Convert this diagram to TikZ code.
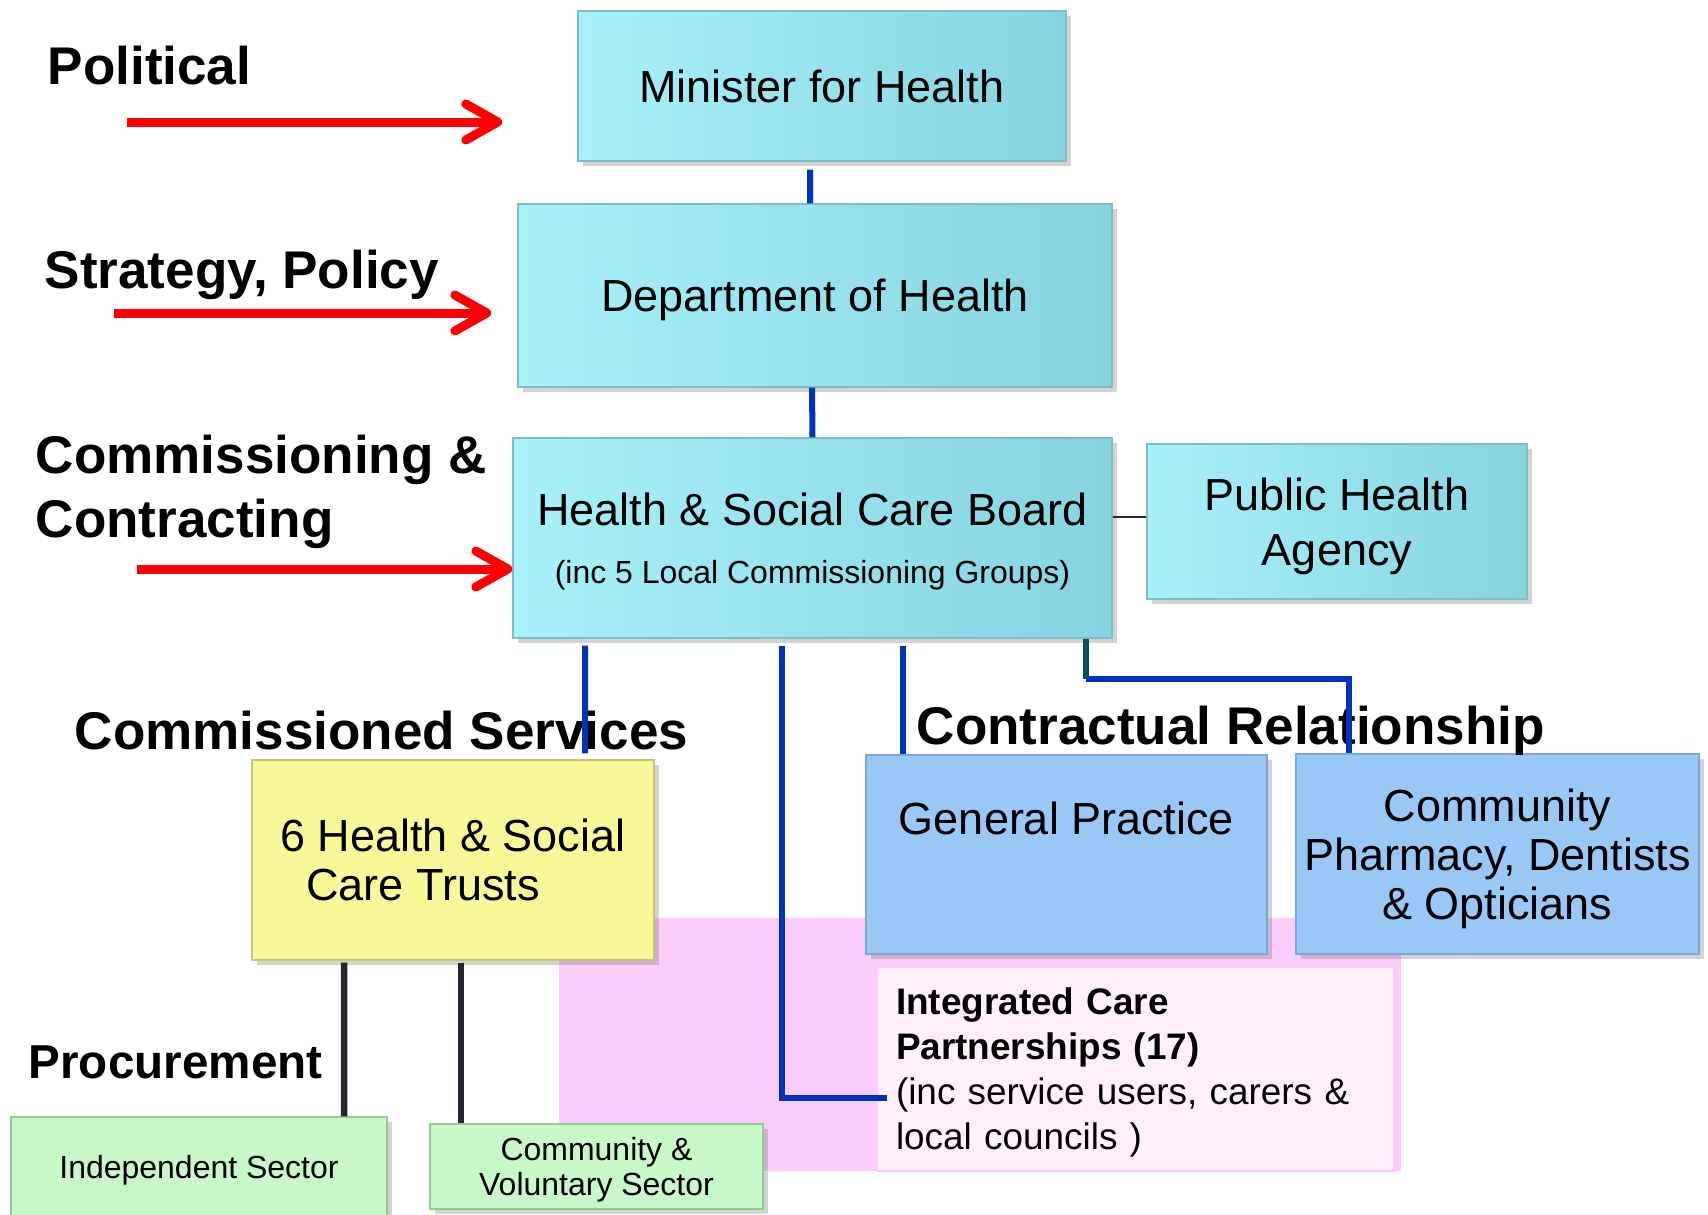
\documentclass[tikz,border=0pt]{standalone}
\usepackage{fontspec}
\setmainfont{Liberation Sans}
\usetikzlibrary{arrows.meta,shadows}
\definecolor{cyanL}{HTML}{A8F1FA}
\definecolor{cyanR}{HTML}{85D4E0}
\definecolor{cyanE}{HTML}{7DBDC6}
\definecolor{trustY}{HTML}{F8F898}
\definecolor{trustE}{HTML}{C4C47A}
\definecolor{gpB}{HTML}{99C8F6}
\definecolor{gpE}{HTML}{78A8D8}
\definecolor{secG}{HTML}{C8F8C8}
\definecolor{secE}{HTML}{96C896}
\definecolor{icpP}{HTML}{FACCFA}
\definecolor{icpW}{HTML}{FFF0FC}
\definecolor{linkB}{HTML}{0033BB}
\definecolor{linkT}{HTML}{0B4F5A}
\definecolor{linkD}{HTML}{26262E}
\newcommand\boxtxt{\fontsize{12.8}{13.9}\selectfont}
\newcommand\subtxt{\fontsize{9.1}{10}\selectfont}
\newcommand\headtxt{\fontsize{15.1}{18.2}\selectfont\bfseries}
\newcommand\icptxt{\fontsize{10.5}{12.8}\selectfont}
\begin{document}
\begin{tikzpicture}[
  shad/.style={drop shadow={shadow xshift=0.05cm,shadow yshift=-0.05cm,opacity=0.35}},
  box/.style={draw=cyanE,left color=cyanL,right color=cyanR,shad,font=\boxtxt,align=center,inner sep=0,text depth=0pt},
  trustbox/.style={draw=trustE,fill=trustY,shad,font=\boxtxt,align=left,inner sep=0},
  gpbox/.style={draw=gpE,fill=gpB,shad,font=\boxtxt,align=center,inner sep=0,text depth=0pt},
  secbox/.style={draw=secE,fill=secG,shad,font=\subtxt,align=center,inner sep=0,text depth=0pt},
  head/.style={font=\headtxt,inner sep=0,anchor=base west},
  link/.style={draw=linkB,line width=0.06cm},
  dlink/.style={draw=linkD,line width=0.065cm},
  redarr/.style={draw=red,line width=0.09cm,-{Straight Barb[length=3.2mm,width=3.6mm,round]}}]
  \useasboundingbox (0,0) rectangle (17.08,-12.14);

  \fill[icpP] (5.59,-9.18) rectangle (14.01,-11.71);

  \node[box,minimum width=4.88cm,minimum height=1.50cm] (minister) at (8.22,-0.86) {Minister for Health};
  \node[box,minimum width=5.94cm,minimum height=1.83cm] (dept) at (8.15,-2.955) {Department of Health};
  \node[box,minimum width=5.99cm,minimum height=2.00cm] (hscb) at (8.125,-5.38)
    {Health \& Social Care Board\\[0.09cm] \subtxt (inc 5 Local Commissioning Groups)};
  \node[box,minimum width=3.80cm,minimum height=1.55cm,font=\fontsize{12.8}{15.5}\selectfont] (pha) at (13.37,-5.215) {Public Health\\Agency};

  \node[draw=icpP,fill=icpW,minimum width=5.17cm,minimum height=2.04cm,text width=4.79cm,inner xsep=0.19cm,inner ysep=0.05cm,align=left,font=\icptxt] (icp) at (11.355,-10.69)
    {\rule{0pt}{0.34cm}{\bfseries Integrated Care}\\{\bfseries Partnerships (17)}\\(inc service users, carers \&\\local councils )};

  \node[trustbox,minimum width=4.02cm,minimum height=2.00cm] (hsct) at (4.53,-8.60) {6 Health \& Social\\\hspace*{0.26cm}Care Trusts};
  \node[gpbox,minimum width=4.01cm,minimum height=1.99cm] (gp) at (10.665,-8.545) {};
  \node[font=\boxtxt,inner sep=0] (gptext) at ([yshift=-0.64cm]gp.north) {General Practice};
  \node[gpbox,minimum width=4.03cm,minimum height=2.00cm] (cp) at (14.975,-8.54) {Community\\Pharmacy, Dentists\\\& Opticians};
  \node[secbox,minimum width=3.76cm,minimum height=1.00cm] (indep) at (1.99,-11.67) {Independent Sector};
  \node[secbox,minimum width=3.33cm,minimum height=0.85cm] (cv) at (5.965,-11.665) {Community \&\\Voluntary Sector};

  \node[head] (political) at (0.47,-0.84) {Political};
  \node[head] (strategy) at (0.44,-2.88) {Strategy, Policy};
  \node[head,anchor=west,align=left] (commis) at (0.35,-4.92) {Commissioning \&\\Contracting};
  \node[head] (services) at (0.74,-7.49) {Commissioned Services};
  \node[head] (contract) at (9.16,-7.44) {Contractual Relationship};
  \node[head,font=\fontsize{13.55}{16}\selectfont\bfseries] (procure) at (0.28,-10.78) {Procurement};

  \draw[redarr] ([shift={(-0.75,-0.36)}]minister.west) ++(-3.75,0) -- ++(3.75,0);
  \draw[redarr] ([shift={(-0.26,-0.175)}]dept.west) ++(-3.77,0) -- ++(3.77,0);
  \draw[redarr] ([shift={(0,-0.31)}]hscb.west) ++(-3.75,0) -- ++(3.75,0);

  \draw[link] ([xshift=-0.12cm,yshift=-0.08cm]minister.south) -- ([xshift=-0.05cm]dept.north);
  \draw[link] ([xshift=-0.03cm]dept.south) -- (hscb.north);
  \draw[link] ([xshift=-2.275cm,yshift=-0.07cm]hscb.south) -- ([xshift=1.32cm,yshift=0.06cm]hsct.north);
  \draw[link] ([xshift=-0.305cm,yshift=-0.07cm]hscb.south) |- ([shift={(0.11,-0.29)}]icp.west);
  \draw[link] ([xshift=0.905cm,yshift=-0.07cm]hscb.south) -- ([xshift=-1.635cm]gp.north);
  \coordinate (elbow) at ([xshift=2.735cm,yshift=-0.40cm]hscb.south);
  \draw[link] (elbow) -| ([xshift=-1.485cm]cp.north);
  \draw[draw=linkT,line width=0.06cm] ([xshift=2.735cm]hscb.south) -- (elbow);
  \draw[linkD,line width=0.4pt] ([yshift=0.21cm]hscb.east) -- ([yshift=0.045cm]pha.west);
  \draw[dlink] ([xshift=-1.09cm,yshift=-0.02cm]hsct.south) -- ([xshift=1.45cm]indep.north);
  \draw[dlink] ([xshift=0.08cm,yshift=-0.02cm]hsct.south) -- ([xshift=-1.355cm]cv.north);
\end{tikzpicture}
\end{document}
